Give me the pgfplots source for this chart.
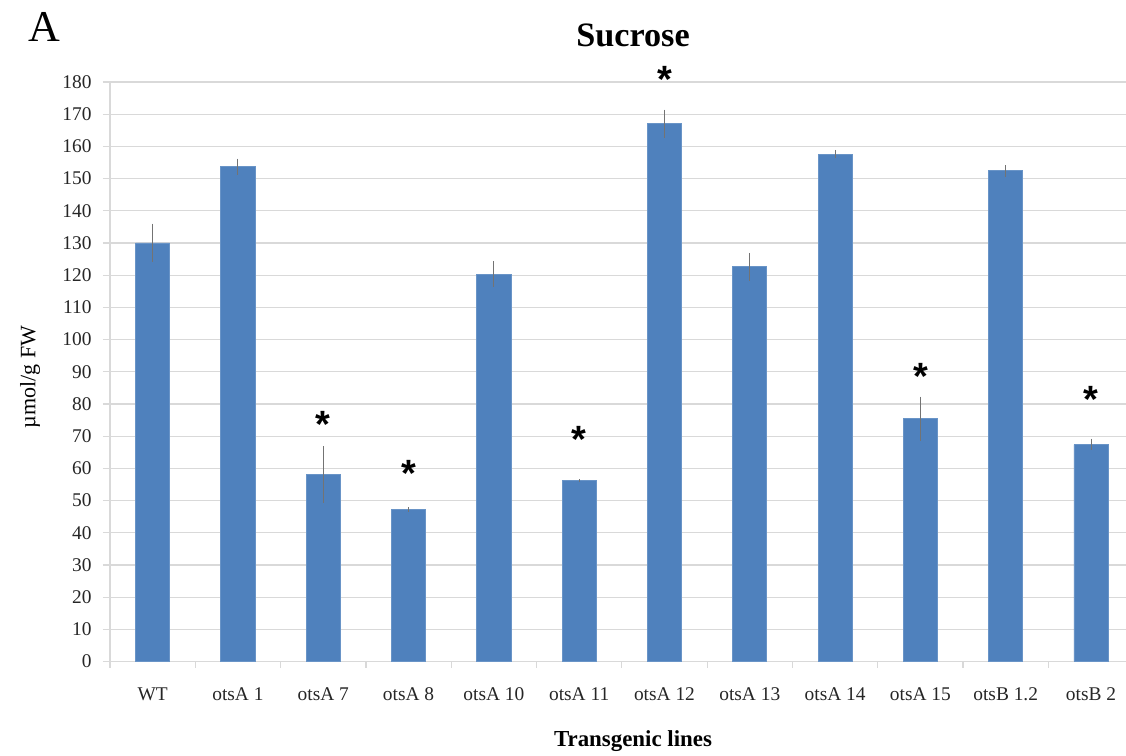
\documentclass[border=0pt]{standalone}
\usepackage{fontspec}
\setmainfont{Liberation Serif}
\newfontfamily\starfont{Liberation Sans}
\usepackage{pgfplots}
\pgfplotsset{compat=1.18}
\definecolor{barblue}{RGB}{79,129,189}
\definecolor{gridgray}{RGB}{217,217,217}
\definecolor{errgray}{RGB}{115,115,115}
\begin{document}
\begin{tikzpicture}
\useasboundingbox (-55pt,-47.25pt) rectangle (508pt,330.75pt);
\begin{axis}[
  scale only axis,
  width=508pt, height=289.75pt,
  xmin=-0.5, xmax=11.41,
  ymin=0, ymax=180,
  clip=false,
  axis x line*=bottom, axis y line*=left,
  axis line style={draw=gridgray, line width=0.6pt},
  xtick={0,...,11},
  xticklabels={WT, otsA 1, otsA 7, otsA 8, otsA 10, otsA 11, otsA 12, otsA 13, otsA 14, otsA 15, otsB 1.2, otsB 2},
  minor xtick={-0.5,0.5,...,11.5},
  x tick style={draw=none},
  minor x tick style={draw=gridgray, line width=0.6pt},
  minor tick length=3pt,
  ytick={0,10,...,180},
  y tick style={draw=gridgray, line width=0.6pt},
  major tick length=3.5pt,
  tick align=outside,
  ymajorgrids,
  major grid style={draw=gridgray, line width=0.6pt},
  /pgf/number format/assume math mode=true,
  tick label style={font=\fontsize{9.7}{11}\selectfont, text=black!85},
  xticklabel style={anchor=center, yshift=-12.75pt},
  yticklabel style={anchor=east, inner sep=0pt, xshift=-5.5pt},
]
\addplot[ybar, bar width=0.4, fill=barblue, draw=barblue!85!white, line width=0.4pt,
  error bars/.cd, y dir=both, y explicit, error mark=none,
  error bar style={draw=errgray, line width=0.5pt}]
coordinates {
  (0,130.0) +- (0,6.0)
  (1,153.7) +- (0,2.5)
  (2,58.1) +- (0,8.8)
  (3,47.1) +- (0,0.8)
  (4,120.3) +- (0,4.1)
  (5,56.1) +- (0,0.5)
  (6,167.0) +- (0,4.4)
  (7,122.6) +- (0,4.3)
  (8,157.6) +- (0,1.3)
  (9,75.4) +- (0,6.9)
  (10,152.4) +- (0,1.8)
  (11,67.4) +- (0,1.8)
};
\addplot[only marks, mark=*, mark size=0pt, mark options={draw=none, fill=none},
  nodes near coords={\starfont\bfseries *},
  every node near coord/.style={anchor=center, inner sep=0pt, yshift=-3.6pt,
    font=\fontsize{19}{19}\selectfont, text=black}]
coordinates {(2,76.0) (3,60.5) (5,71.3) (6,183) (9,90.8) (11,83.6)};
\end{axis}
\node[font=\fontsize{17.1}{18}\selectfont\bfseries] at (261.5pt,313.25pt) {Sucrose};
\node[font=\fontsize{22}{22}\selectfont] at (-33pt,317.5pt) {A};
\node[font=\fontsize{11.45}{12}\selectfont\bfseries] at (261.5pt,-40pt) {Transgenic lines};
\node[font=\fontsize{11}{12}\selectfont, rotate=90] at (-40pt,142.25pt) {µmol/g FW};
\end{tikzpicture}
\end{document}
